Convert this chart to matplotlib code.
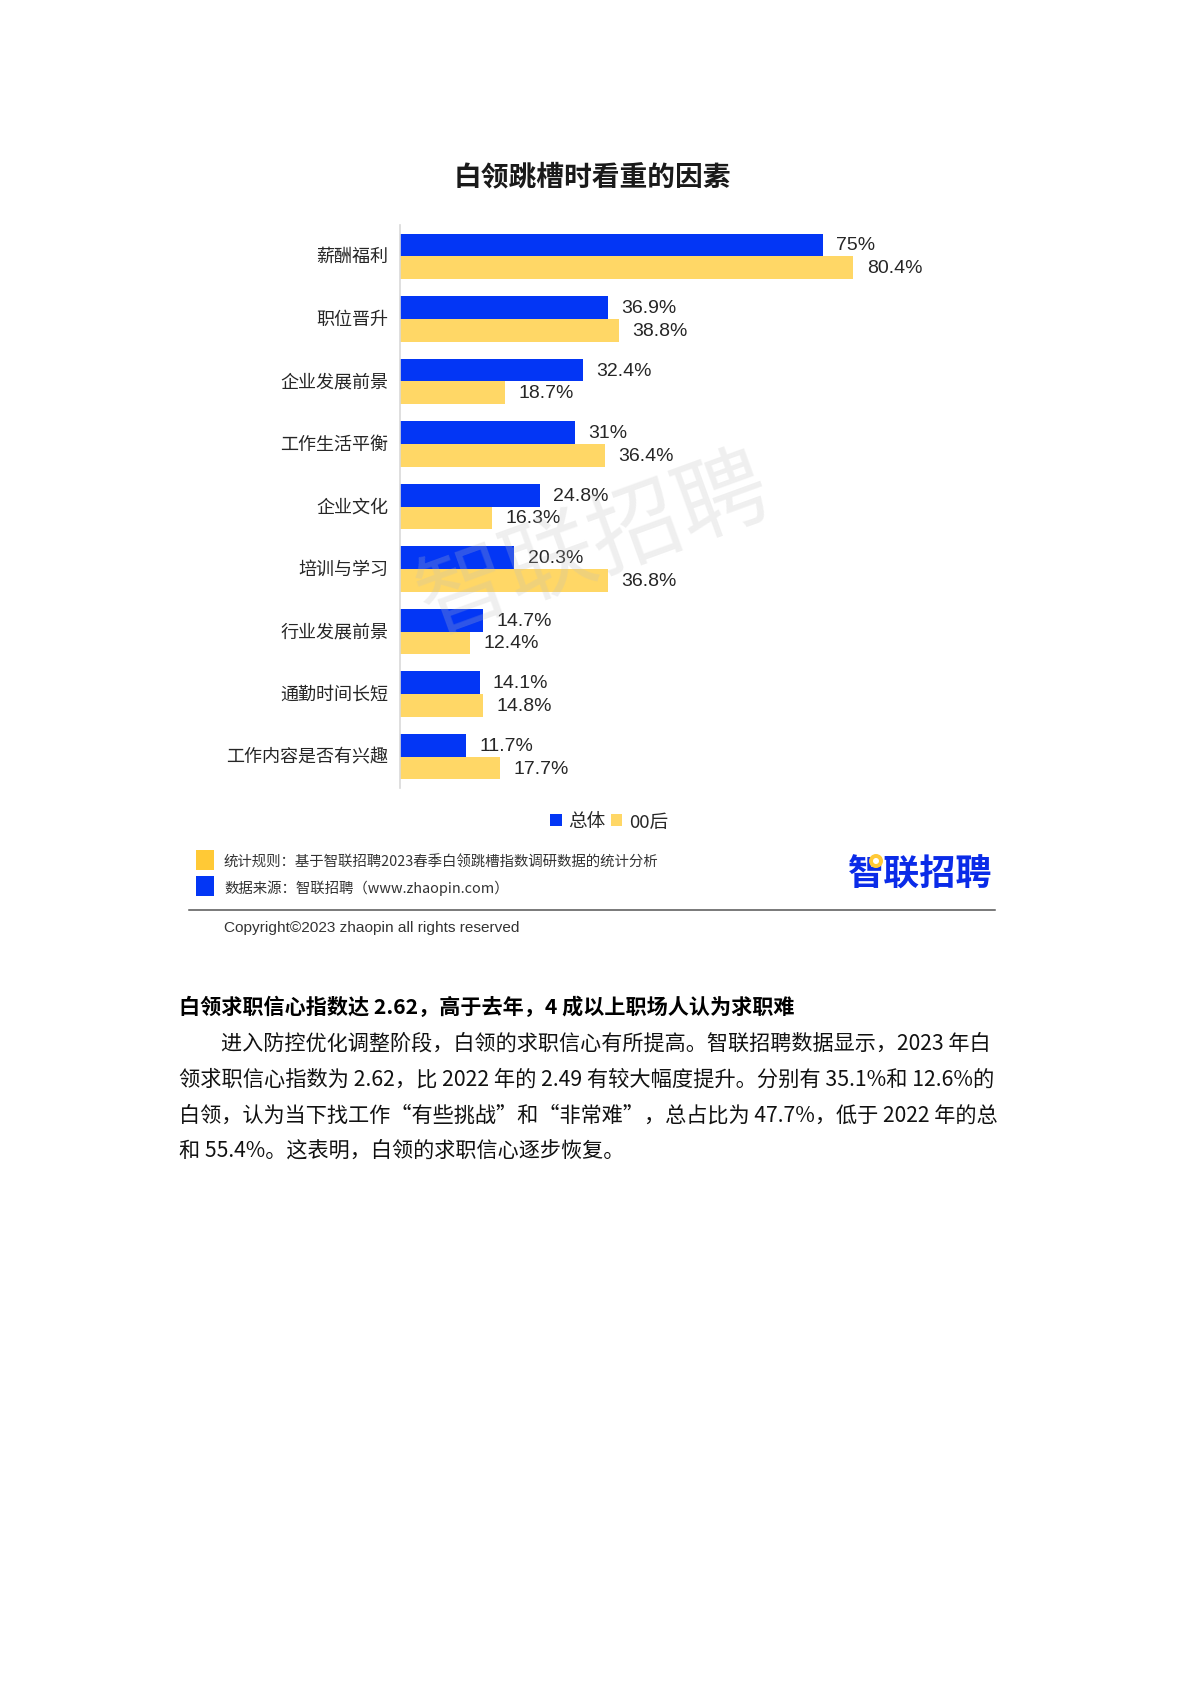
import matplotlib
matplotlib.use("Agg")
import matplotlib.pyplot as plt
import matplotlib.transforms as mtrans
import numpy as np
from matplotlib.patches import Rectangle, Circle

CJK = ['Noto Sans CJK SC', 'DejaVu Sans']
plt.rcParams['font.family'] = CJK

categories = ['薪酬福利', '职位晋升', '企业发展前景', '工作生活平衡', '企业文化',
              '培训与学习', '行业发展前景', '通勤时间长短', '工作内容是否有兴趣']
overall = [75, 36.9, 32.4, 31, 24.8, 20.3, 14.7, 14.1, 11.7]
gen00 = [80.4, 38.8, 18.7, 36.4, 16.3, 36.8, 12.4, 14.8, 17.7]
series_names = ['总体', '00后']
title = '白领跳槽时看重的因素'
note_rule = '统计规则：基于智联招聘2023春季白领跳槽指数调研数据的统计分析'
note_source = '数据来源：智联招聘（www.zhaopin.com）'
copyright_text = 'Copyright©2023 zhaopin all rights reserved'
headline = '白领求职信心指数达 2.62，高于去年，4 成以上职场人认为求职难'
body_lines = ['进入防控优化调整阶段，白领的求职信心有所提高。智联招聘数据显示，2023 年白',
              '领求职信心指数为 2.62，比 2022 年的 2.49 有较大幅度提升。分别有 35.1%和 12.6%的',
              '白领，认为当下找工作“有些挑战”和“非常难”，总占比为 47.7%，低于 2022 年的总',
              '和 55.4%。这表明，白领的求职信心逐步恢复。']

BLUE = '#0336F5'
YELLOW = '#FFD766'
W, H = 1190, 1683
fig = plt.figure(figsize=(W / 100, H / 100), dpi=100, facecolor='white')

# overlay in pixel coordinates
ov = fig.add_axes([0, 0, 1, 1], zorder=3)
ov.set_xlim(0, W); ov.set_ylim(H, 0); ov.axis('off'); ov.patch.set_alpha(0)

# chart axes
L, R, T, B = 400, 1000, 226, 789
ax = fig.add_axes([L / W, 1 - B / H, (R - L) / W, (B - T) / H], zorder=1)
y = np.arange(len(categories))
h = 0.363
b1 = ax.barh(y - h / 2, overall, height=h, color=BLUE, label=series_names[0])
b2 = ax.barh(y + h / 2, gen00, height=h, color=YELLOW, label=series_names[1])
ax.set_ylim(len(categories) - 0.5, -0.5)
ax.set_xlim(0, (R - L) / 5.64)
ax.set_yticks(y, categories, fontsize=13, color='#262626')
ax.tick_params(axis='y', length=0, pad=8.5)
lift = mtrans.ScaledTranslation(0, 2.2 / 100, fig.dpi_scale_trans)
for t in ax.get_yticklabels():
    t.set_transform(t.get_transform() + lift)
ax.set_xticks([])
for s in ['top', 'right', 'bottom']:
    ax.spines[s].set_visible(False)
ax.spines['left'].set_color('#D9D9D9')
ax.spines['left'].set_linewidth(1.2)
drop = mtrans.ScaledTranslation(0, -1.8 / 100, fig.dpi_scale_trans)
for bars in (b1, b2):
    for t in ax.bar_label(bars, fmt='%g%%', padding=9.5, fontsize=14, color='#262626',
                          family=['Liberation Sans', 'DejaVu Sans']):
        t.set_transform(t.get_transform() + drop)
ax.legend(loc='center', bbox_to_anchor=((609 - L) / (R - L), 1 - (822.5 - T) / (B - T)),
          ncol=2, frameon=False, fontsize=13.4, handlelength=0.62, handleheight=0.68,
          handletextpad=0.35, columnspacing=0.3, labelcolor='#262626', borderpad=0)

# title
ov.text(592, 177, title, ha='center', va='center', fontsize=20, fontweight='bold', color='#1a1a1a')

# watermark
ov.text(594, 547, '智联招聘', ha='center', va='center', fontsize=66, rotation=20,
        color='#BFBFBF', alpha=0.24)

# footer notes
ov.add_patch(Rectangle((196, 851), 18, 20, color='#FFC936', lw=0))
ov.add_patch(Rectangle((196, 877), 18, 20, color=BLUE, lw=0))
ov.text(224, 863, note_rule, va='center', fontsize=10.4, color='#333333')
ov.text(224, 888.5, note_source, va='center', fontsize=10.4, color='#333333')
ov.plot([189, 995], [911, 911], color='#555555', lw=1.1)
ov.text(224, 928.5, copyright_text, va='center', fontsize=11.1, color='#333333',
        family=['Liberation Sans', 'DejaVu Sans'])
ov.text(920, 875, '智联招聘', ha='center', va='center', fontsize=26, fontweight='heavy', color='#0A2BE8')
ov.add_patch(Circle((876, 862), 7, color='#FFC936', lw=0, zorder=5))
ov.add_patch(Circle((876, 862), 3, color='white', lw=0, zorder=6))

# article text
ov.text(179, 1007.5, headline, va='center', fontsize=15.2, fontweight='bold', color='black')
xs = [221, 179, 179, 179]
ys = [1043.6, 1079.7, 1115.3, 1150.4]
sizes = [15.2, 15.3, 15.22, 15.2]
for xx, yy, line, fs in zip(xs, ys, body_lines, sizes):
    ov.text(xx, yy, line, va='center', fontsize=fs, color='#111111')

fig.savefig('out.png', dpi=100, facecolor='white')
